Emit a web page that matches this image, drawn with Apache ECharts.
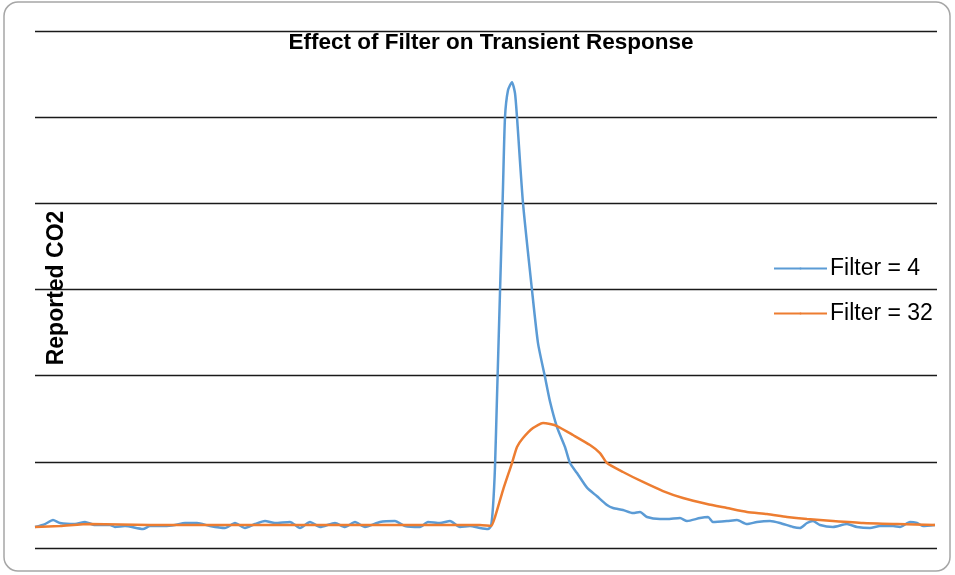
<!DOCTYPE html>
<html>
<head>
<meta charset="utf-8">
<script src="https://cdn.jsdelivr.net/npm/echarts@6/dist/echarts.min.js"></script>
<style>
  html, body { margin: 0; padding: 0; background: #fff; }
  #main { width: 955px; height: 575px; }
</style>
</head>
<body>
<div id="main"></div>
<script>
// sample position (x) and reported CO2 (y)
var filter4X = [0, 10, 18, 25, 40, 50, 60, 75, 80, 90, 108, 115, 130, 140, 150, 162, 175, 190, 200, 210, 220, 230, 240, 255, 265, 275, 285, 300, 310, 320, 330, 345, 360, 370, 385, 393, 405, 415, 425, 435, 445, 453, 456, 458, 460, 462, 464, 466, 468, 470, 473, 477, 480, 482, 488, 497, 503, 510, 515, 522, 530, 535, 542, 552, 562, 572, 578, 588, 598, 605, 612, 625, 632, 645, 652, 665, 673, 678, 692, 702, 712, 722, 735, 745, 758, 765, 772, 778, 785, 798, 812, 822, 835, 845, 858, 865, 875, 882, 888, 900];
var filter4Y = [244, 278, 325, 290, 278, 302, 267, 267, 244, 255, 220, 255, 255, 267, 290, 290, 255, 232, 290, 232, 278, 313, 290, 302, 232, 302, 244, 290, 244, 302, 244, 302, 313, 255, 244, 302, 290, 313, 244, 255, 232, 220, 255, 479, 943, 1752, 2564, 3376, 4188, 5000, 5313, 5406, 5278, 5000, 4002, 2993, 2378, 1984, 1700, 1404, 1172, 986, 870, 700, 600, 499, 464, 441, 406, 418, 360, 336, 336, 348, 313, 348, 360, 302, 313, 325, 278, 302, 313, 290, 244, 232, 290, 313, 267, 244, 278, 244, 232, 255, 255, 244, 302, 290, 255, 267];
var filter32X = [0, 25, 55, 115, 165, 265, 365, 445, 456, 460, 468, 477, 482, 488, 498, 508, 515, 522, 538, 555, 565, 572, 588, 608, 628, 648, 672, 692, 712, 732, 752, 772, 798, 828, 862, 900];
var filter32Y = [244, 255, 278, 267, 267, 267, 267, 267, 255, 360, 673, 986, 1172, 1276, 1392, 1450, 1438, 1415, 1311, 1195, 1102, 986, 882, 766, 661, 580, 510, 464, 418, 394, 360, 336, 313, 290, 278, 267];
var seriesNames = ['Filter = 4', 'Filter = 32'];
var yTicks = [0, 1000, 2000, 3000, 4000, 5000, 6000];

function pairs(xs, ys) {
  return xs.map(function (x, i) { return [x, ys[i]]; });
}

var font = 'Liberation Sans, Arial, sans-serif';
var chart = echarts.init(document.getElementById('main'), null, { renderer: 'canvas' });
var option = {
  animation: false,
  backgroundColor: '#fff',
  title: {
    text: 'Effect of Filter on Transient Response',
    left: 486,
    textAlign: 'center',
    top: 26,
    textStyle: {
      fontFamily: font,
      fontWeight: 'bold',
      fontSize: 22.5,
      color: '#000'
    }
  },
  grid: { left: 35, right: 18, top: 31, bottom: 27 },
  legend: {
    orient: 'vertical',
    left: 768,
    top: 252,
    itemWidth: 53,
    itemHeight: 2.5,
    itemGap: 22,
    textStyle: { fontFamily: font, fontSize: 23, color: '#000', padding: [0, 0, 0, -2] },
    data: seriesNames
  },
  xAxis: {
    type: 'value',
    min: 0,
    max: 902,
    axisLine: { show: false },
    axisTick: { show: false },
    axisLabel: { show: false },
    splitLine: { show: false }
  },
  yAxis: {
    type: 'value',
    min: yTicks[0],
    max: yTicks[yTicks.length - 1],
    interval: 1000,
    axisLine: { show: false },
    axisTick: { show: false },
    axisLabel: { show: false },
    splitLine: { lineStyle: { color: '#1a1a1a', width: 1.3 } }
  },
  graphic: [
    {
      type: 'rect',
      shape: { x: 4, y: 2, width: 946, height: 569, r: 14 },
      style: { fill: 'none', stroke: '#a6a6a6', lineWidth: 1.5 },
      silent: true
    },
    {
      type: 'text',
      x: 57,
      y: 288,
      rotation: Math.PI / 2,
      style: {
        text: 'Reported CO2',
        fontFamily: font,
        fontWeight: 'bold',
        fontSize: 23,
        fill: '#000',
        align: 'center',
        verticalAlign: 'middle'
      },
      z: 10
    }
  ],
  series: [
    {
      name: seriesNames[0],
      type: 'line',
      symbol: 'none',
      legendIcon: 'rect',
      smooth: 0.2,
      data: pairs(filter4X, filter4Y),
      lineStyle: { color: '#5B9BD5', width: 2.5 },
      itemStyle: { color: '#5B9BD5' },
      z: 3
    },
    {
      name: seriesNames[1],
      type: 'line',
      symbol: 'none',
      legendIcon: 'rect',
      smooth: 0.2,
      data: pairs(filter32X, filter32Y),
      lineStyle: { color: '#ED7D31', width: 2.5 },
      itemStyle: { color: '#ED7D31' },
      z: 4
    }
  ]
};
chart.setOption(option);
</script>
</body>
</html>
